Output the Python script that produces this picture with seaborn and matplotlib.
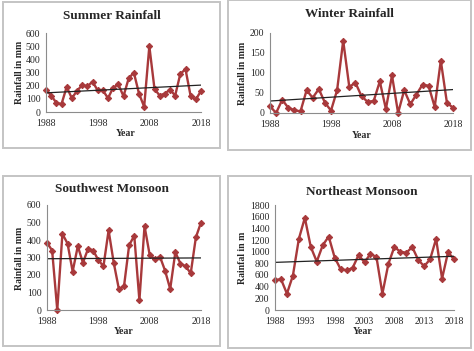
import numpy as np
import pandas as pd
import matplotlib
matplotlib.use("Agg")
import matplotlib.pyplot as plt
import seaborn as sns
from matplotlib.patches import Rectangle

# ---------------------------------------------------------------
# Data
# ---------------------------------------------------------------
years = list(range(1988, 2019))

summer = [170, 125, 70, 60, 190, 105, 160, 205, 195, 230, 165,
          165, 105, 185, 210, 120, 255, 300, 140, 40, 500, 175,
          125, 140, 170, 125, 290, 325, 120, 95, 160]

winter = [17, 0, 33, 13, 7, 4, 57, 38, 60, 26, 6,
          57, 181, 65, 76, 42, 28, 30, 79, 10, 94, 0,
          57, 22, 46, 71, 68, 15, 131, 26, 13]

southwest = [385, 340, 0, 435, 380, 220, 365, 270, 350, 340, 285,
             250, 455, 270, 120, 135, 370, 425, 55, 480, 315, 290,
             305, 225, 120, 330, 265, 250, 210, 415, 500]

northeast = [510, 530, 280, 590, 1220, 1580, 1080, 830, 1110, 1260, 900,
             700, 680, 720, 940, 820, 960, 910, 280, 790, 1080, 1000,
             980, 1080, 860, 750, 870, 1220, 540, 990, 870]

titles = ["Summer Rainfall", "Winter Rainfall", "Southwest Monsoon", "Northeast Monsoon"]
ylabels = ["Rainfall in mm", "Rainfall in mm", "Rainfall in mm", "Rainfal in m"]
ymax = [600, 200, 600, 1800]
ystep = [100, 50, 100, 200]
xstep = [10, 10, 10, 5]

# ---------------------------------------------------------------
# Style
# ---------------------------------------------------------------
sns.set_theme(style="white")
plt.rcParams["font.family"] = ["Liberation Serif", "DejaVu Serif"]

W, H = 474, 351
fig = plt.figure(figsize=(W / 100, H / 100), dpi=100)
fig.patch.set_facecolor("white")

line_col = "#A8393B"
axis_col = "#8C8C8C"

# pixel layouts: axes box (left, right, top, bottom), panel frame, title/label positions
axes_px = [(46, 201, 33, 112), (270, 453, 33, 113), (47, 201, 205, 310), (275, 454, 205, 310)]
frames_px = [(3, 220, 2, 148), (228, 471, 0, 150), (3, 220, 176, 346), (228, 471, 176, 348)]
title_px = [(112, 16), (349, 14), (112, 189), (362, 192)]
xlab_px = [(126, 134), (362, 136), (124, 332), (363, 332)]
ylab_px = [(19, 72), (243, 73), (19, 258), (243, 258)]

series = [summer, winter, southwest, northeast]

for i in range(4):
    # panel frame
    fl, fr, ft, fb = frames_px[i]
    fig.patches.append(Rectangle((fl / W, 1 - fb / H), (fr - fl) / W, (fb - ft) / H,
                                 transform=fig.transFigure, fill=False,
                                 edgecolor="#C4C4C4", linewidth=1.4))

    l, r, t, b = axes_px[i]
    ax = fig.add_axes([l / W, 1 - b / H, (r - l) / W, (b - t) / H])
    ax.set_facecolor("none")

    df = pd.DataFrame({"Year": years, "Rain": series[i]})
    sns.lineplot(data=df, x="Year", y="Rain", ax=ax, color=line_col, linewidth=1.7,
                 marker="D", markersize=3.2, markeredgecolor=line_col, clip_on=False)
    sns.regplot(data=df, x="Year", y="Rain", ax=ax, scatter=False, ci=None,
                line_kws={"color": "#222222", "linewidth": 0.9})

    ax.set_xlim(1988, 2018)
    ax.set_ylim(0, ymax[i])
    ax.set_xticks(range(1988, 2019, xstep[i]))
    ax.set_yticks(np.arange(0, ymax[i] + 1, ystep[i]))
    ax.tick_params(axis="both", labelsize=7, length=2.5, width=0.6,
                   color=axis_col, pad=1.5, direction="out")
    ax.tick_params(axis="x", pad=2.5)
    for s in ["top", "right"]:
        ax.spines[s].set_visible(False)
    for s in ["left", "bottom"]:
        ax.spines[s].set_color(axis_col)
        ax.spines[s].set_linewidth(0.8)
    ax.set_xlabel("")
    ax.set_ylabel("")

    tx, ty = title_px[i]
    fig.text(tx / W, 1 - ty / H, titles[i], ha="center", va="center",
             fontsize=9.5, fontweight="bold")
    xx, xy = xlab_px[i]
    fig.text(xx / W, 1 - xy / H, "Year", ha="center", va="center",
             fontsize=7, fontweight="bold")
    yx, yy = ylab_px[i]
    fig.text(yx / W, 1 - yy / H, ylabels[i], ha="center", va="center",
             fontsize=7, fontweight="bold", rotation=90)

fig.savefig("out.png", dpi=100, facecolor="white")
